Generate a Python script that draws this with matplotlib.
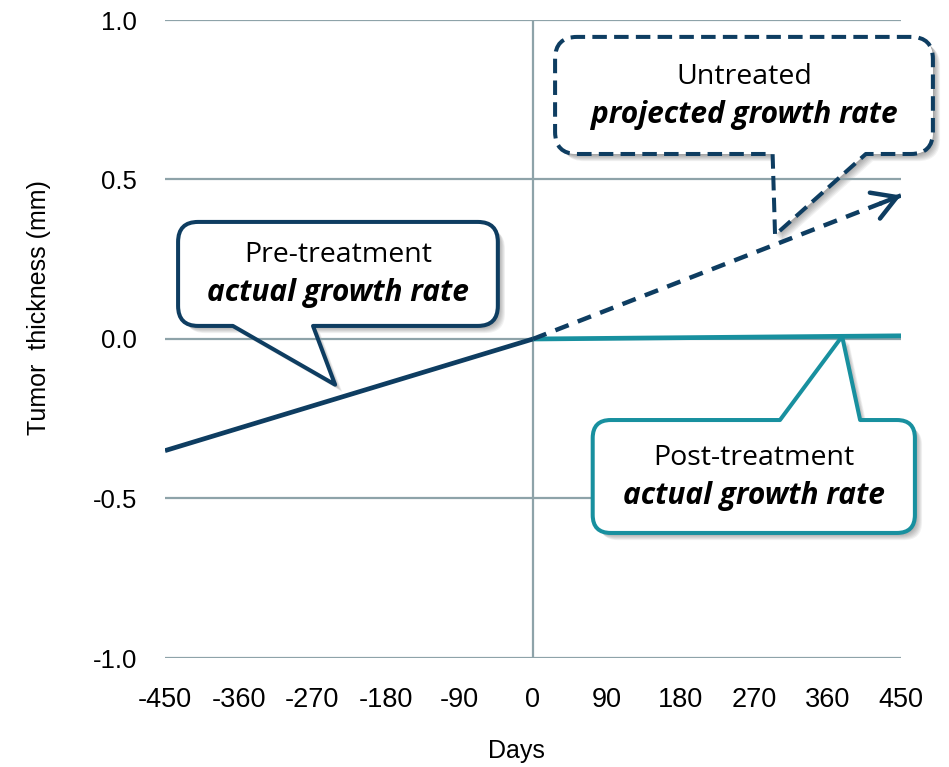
import numpy as np
import matplotlib
matplotlib.use("Agg")
import matplotlib.pyplot as plt
from matplotlib.path import Path
from matplotlib.patches import PathPatch
from matplotlib.transforms import IdentityTransform

# Tumor thickness (mm) against days relative to treatment start
pre_days = [-450, 0]
pre_mm = [-0.35, 0.0]
proj_days = [0, 450]
proj_mm = [0.0, 0.45]
post_days = [0, 450]
post_mm = [0.0, 0.01]

x_ticks = [-450, -360, -270, -180, -90, 0, 90, 180, 270, 360, 450]
y_ticks = [-1.0, -0.5, 0.0, 0.5, 1.0]

NAVY = "#0e3d61"
TEAL = "#18909f"
GRID = "#8ea3a9"

W, H = 949, 767
fig = plt.figure(figsize=(W / 100, H / 100), dpi=100)
ax = fig.add_axes([165 / W, 1 - 658 / H, 736 / W, 638 / H])
ax.set_xlim(-450, 450)
ax.set_ylim(-1.0, 1.0)
for s in ax.spines.values():
    s.set_visible(False)

for yv in y_ticks:
    ax.axhline(yv, color=GRID, lw=1.6, zorder=2.5)
ax.axvline(0, color=GRID, lw=1.6, zorder=2.5)

ax.set_xticks(x_ticks)
ax.set_xticklabels([str(v) for v in x_ticks], fontsize=19.5,
                   family="Liberation Sans")
ax.set_yticks(y_ticks)
ax.set_yticklabels([f"{v:.1f}" for v in y_ticks], fontsize=18.5,
                   family="Liberation Sans")
ax.tick_params(length=0, pad=20)
ax.tick_params(axis="x", pad=21)

ax.set_xlabel("Days", fontsize=18, family="Liberation Sans", va="center")
ax.xaxis.set_label_coords(0.478, -0.146)
ax.set_ylabel("Tumor  thickness (mm)", fontsize=18, family="Liberation Sans",
              va="center", ha="center")
ax.yaxis.set_label_coords(-0.171, 0.549)

# growth lines
ax.plot(pre_days, pre_mm, color=NAVY, lw=3.4, solid_capstyle="butt", zorder=3)
ax.plot(post_days, post_mm, color=TEAL, lw=3.4, solid_capstyle="butt", zorder=3)
ax.plot(proj_days, proj_mm, color=NAVY, lw=3.2, dashes=(3.2, 2.2),
        dash_capstyle="butt", zorder=3)
tail_x = proj_days[-1] - 25
ax.annotate("", xy=(proj_days[-1], proj_mm[-1]),
            xytext=(tail_x, np.interp(tail_x, proj_days, proj_mm)),
            arrowprops=dict(arrowstyle="->,head_length=0.85,head_width=0.5",
                            color=NAVY, lw=3.2, shrinkA=0, shrinkB=0,
                            mutation_scale=20),
            zorder=3)

fig.canvas.draw()
T = ax.transData


def rounded_path(x0, y0, x1, y1, r, side, base=None, tip=None):
    """Rounded rectangle in display coords, optionally with a pointer."""
    verts, codes = [], []

    def mv(p):
        verts.append(p); codes.append(Path.MOVETO)

    def ln(p):
        verts.append(p); codes.append(Path.LINETO)

    def cv(c, p):
        verts.extend([c, p]); codes.extend([Path.CURVE3, Path.CURVE3])

    mv((x0 + r, y0))
    if side == "bottom" and base is not None:
        ln((base[0], y0)); ln(tip); ln((base[1], y0))
    ln((x1 - r, y0))
    cv((x1, y0), (x1, y0 + r))
    ln((x1, y1 - r))
    cv((x1, y1), (x1 - r, y1))
    if side == "top" and base is not None:
        ln((base[1], y1)); ln(tip); ln((base[0], y1))
    ln((x0 + r, y1))
    cv((x0, y1), (x0, y1 - r))
    ln((x0, y0 + r))
    cv((x0, y0), (x0 + r, y0))
    verts.append((x0 + r, y0)); codes.append(Path.CLOSEPOLY)
    return Path(verts, codes)


def callout(box, base_days, tip_xy, side, edge, ls, r, line1, line2):
    (x0, y0) = T.transform((box[0], box[2]))
    (x1, y1) = T.transform((box[1], box[3]))
    ba = T.transform((base_days[0], 0))[0]
    bb = T.transform((base_days[1], 0))[0]
    tip = tuple(T.transform(tip_xy))
    full = rounded_path(x0, y0, x1, y1, r, side, (ba, bb), tip)
    body = rounded_path(x0, y0, x1, y1, r, side)
    ident = IdentityTransform()
    # soft drop shadow
    for k in range(1, 9):
        d = k * 0.9
        sh = rounded_path(x0 + d, y0 - d, x1 + d, y1 - d, r, side,
                          (ba + d, bb + d), (tip[0] + d, tip[1] - d))
        ax.add_patch(PathPatch(sh, transform=ident, facecolor="black",
                               edgecolor="none", alpha=0.05, zorder=1.8,
                               clip_on=False))
    ax.add_patch(PathPatch(full, transform=ident, facecolor="white",
                           edgecolor="none", zorder=2, clip_on=False))
    ax.add_patch(PathPatch(body, transform=ident, facecolor="white",
                           edgecolor="none", zorder=4, clip_on=False))
    ax.add_patch(PathPatch(full, transform=ident, facecolor="none",
                           edgecolor=edge, lw=2.9, linestyle=ls,
                           joinstyle="round", zorder=5, clip_on=False))
    cx = (box[0] + box[1]) / 2
    cy = (box[2] + box[3]) / 2
    ax.annotate(line1, xy=(cx, cy), xytext=(0, 13.5), textcoords="offset points",
                ha="center", va="center", fontsize=20.5, family="Open Sans",
                color="black", zorder=6, annotation_clip=False)
    ax.annotate(line2, xy=(cx, cy), xytext=(0, -14), textcoords="offset points",
                ha="center", va="center", fontsize=21.5, family="Open Sans",
                fontweight="bold", fontstyle="italic", color="black",
                zorder=6, annotation_clip=False)


pre_tip = -242
callout((-434, -43, 0.041, 0.367), (-367, -269),
        (pre_tip, np.interp(pre_tip, pre_days, pre_mm) + 0.045),
        "bottom", NAVY, "solid", 20,
        "Pre-treatment", "actual growth rate")

proj_tip = 296
callout((27, 489, 0.580, 0.947), (293, 407),
        (proj_tip, np.interp(proj_tip, proj_days, proj_mm) + 0.03),
        "bottom", NAVY, (0, (3.6, 1.8)), 22,
        "Untreated", "projected growth rate")

post_tip = 378
callout((73, 467, -0.608, -0.254), (302, 400),
        (post_tip, np.interp(post_tip, post_days, post_mm)),
        "top", TEAL, "solid", 18,
        "Post-treatment", "actual growth rate")

fig.savefig("out.png", dpi=100)
